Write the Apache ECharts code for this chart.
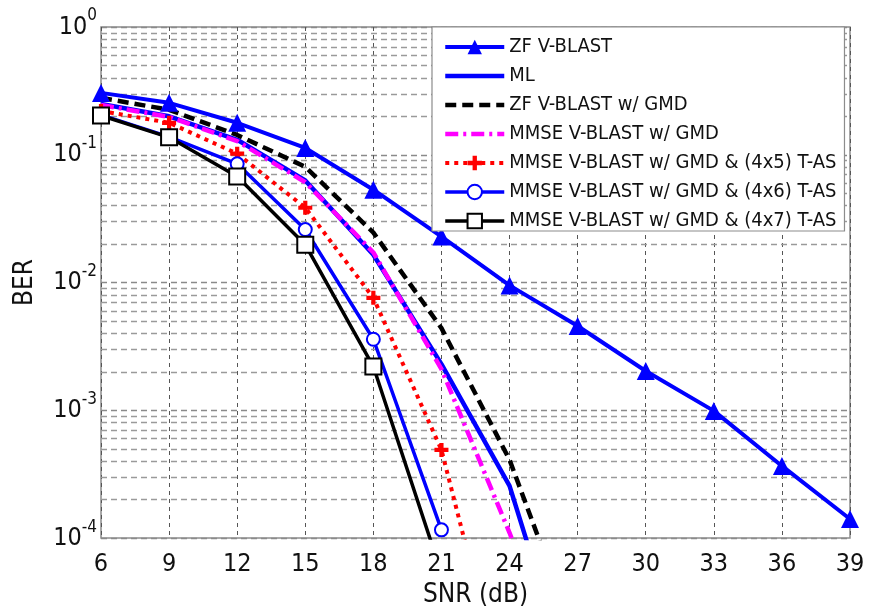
<!DOCTYPE html>
<html>
<head>
<meta charset="UTF-8">
<title>BER vs SNR</title>
<script src="https://cdn.jsdelivr.net/npm/echarts@6/dist/echarts.min.js"></script>
<style>
    html, body { margin: 0; padding: 0; background: #fff; }
    #main { width: 869px; height: 613px; }
</style>
</head>
<body>
<div id="main"></div>
<script>
    // SNR points (dB)
    var snr = [6, 9, 12, 15, 18, 21, 24, 27, 30, 33, 36, 39];

    // BER values (points below 1e-4 continue the curve under the axis)
    var zfVblast   = [0.305, 0.255, 0.178, 0.113, 0.0533, 0.0229, 0.0095, 0.00457, 0.00203, 0.00099, 0.000367, 0.000141];
    var ml         = [0.25, 0.20, 0.131, 0.063, 0.0165, 0.0023, 0.000256, 0.000005];
    var zfGmd      = [0.279, 0.225, 0.143, 0.0805, 0.0246, 0.0044, 0.00041, 0.000015];
    var mmseGmd    = [0.245, 0.198, 0.128, 0.061, 0.0172, 0.0021, 0.00011, 0.0000044];
    var tas4x5     = [0.22, 0.178, 0.102, 0.0385, 0.0076, 0.00049, 0.000004];
    var tas4x6     = [0.205, 0.138, 0.085, 0.026, 0.0036, 0.000116];
    var tas4x7     = [0.203, 0.137, 0.0677, 0.0198, 0.0022, 0.000053];

    // log grid: decades and the minor lines in between
    var decades = [-4, -3, -2, -1];
    var minorSteps = [2, 3, 4, 5, 6, 7, 8, 9];

    var names = [
        'ZF V-BLAST',
        'ML',
        'ZF V-BLAST w/ GMD',
        'MMSE V-BLAST w/ GMD',
        'MMSE V-BLAST w/ GMD & (4x5) T-AS',
        'MMSE V-BLAST w/ GMD & (4x6) T-AS',
        'MMSE V-BLAST w/ GMD & (4x7) T-AS'
    ];

    var font = "'DejaVu Sans Condensed', 'DejaVu Sans', sans-serif";

    function pairs(vals) {
        return vals.map(function (v, i) { return [snr[i], v]; });
    }

    var minorLines = [];
    decades.forEach(function (d) {
        minorSteps.forEach(function (m) {
            minorLines.push({ yAxis: m * Math.pow(10, d) });
        });
    });

    var plusIcon = 'path://M3.5,0h3v3.5h3.5v3h-3.5v3.5h-3v-3.5h-3.5v-3h3.5z';

    // legend rows: lines without markers get no marker in the legend either
    var legendData = names.map(function (n, i) {
        if (i >= 1 && i <= 3) {
            return { name: n, itemStyle: { opacity: 0 } };
        }
        return { name: n };
    });

    var chart = echarts.init(document.getElementById('main'));
    var option = {
        animation: false,
        backgroundColor: '#fff',
        grid: {
            left: 101, right: 19, top: 27, bottom: 74,
            show: true, borderColor: '#8c8c8c', borderWidth: 1.5, backgroundColor: 'transparent'
        },
        legend: {
            orient: 'vertical',
            left: 432, top: 27,
            padding: [10, 8, 0, 11],
            itemWidth: 59, itemHeight: 18, itemGap: 9,
            backgroundColor: '#fff',
            borderColor: '#8c8c8c', borderWidth: 1.2, borderRadius: 0,
            lineStyle: { width: 'inherit' },
            textStyle: { fontFamily: font, fontSize: 20, color: '#111' },
            data: legendData
        },
        xAxis: {
            type: 'value', min: 6, max: 39, interval: 3,
            name: 'SNR (dB)', nameLocation: 'middle', nameGap: 42,
            nameTextStyle: { fontFamily: font, fontSize: 26, color: '#111' },
            axisLine: { show: false },
            axisTick: { show: false },
            axisLabel: { fontFamily: font, fontSize: 25, color: '#111', margin: 14 },
            splitLine: { show: true, lineStyle: { color: '#555', type: [4, 4], width: 1 } }
        },
        yAxis: {
            type: 'log', logBase: 10, min: 1e-4, max: 1,
            name: 'BER', nameLocation: 'middle', nameGap: 63,
            nameTextStyle: { fontFamily: font, fontSize: 26, color: '#111' },
            axisLine: { show: false },
            axisTick: { show: false },
            axisLabel: {
                margin: 4,
                formatter: function (v) {
                    return '{b|10}{e|' + Math.round(Math.log10(v)) + '}';
                },
                rich: {
                    b: { fontFamily: font, fontSize: 25, color: '#111' },
                    e: { fontFamily: font, fontSize: 17, color: '#111', padding: [0, 0, 22, 0] }
                }
            },
            splitLine: { show: true, lineStyle: { color: '#8a8a8a', type: [6, 4], width: 1.3 } }
        },
        series: [
            {
                name: names[0], type: 'line', data: pairs(zfVblast),
                symbol: 'triangle', symbolSize: 18, showAllSymbol: true,
                lineStyle: { color: '#0000ff', width: 4 },
                itemStyle: { color: '#0000ff' },
                markLine: {
                    silent: true, symbol: 'none', precision: 10,
                    label: { show: false },
                    lineStyle: { color: '#9a9a9a', type: [6, 4], width: 1.3 },
                    emphasis: { disabled: true },
                    data: minorLines, z: 1
                }
            },
            {
                name: names[1], type: 'line', data: pairs(ml), symbol: 'none',
                lineStyle: { color: '#0000ff', width: 4.5 },
                itemStyle: { color: '#0000ff' }
            },
            {
                name: names[2], type: 'line', data: pairs(zfGmd), symbol: 'none',
                lineStyle: { color: '#000', width: 4.5, type: [11, 6] },
                itemStyle: { color: '#000' }
            },
            {
                name: names[3], type: 'line', data: pairs(mmseGmd), symbol: 'none',
                lineStyle: { color: '#ff00ff', width: 4.5, type: [13, 5, 3, 5] },
                itemStyle: { color: '#ff00ff' }
            },
            {
                name: names[4], type: 'line', data: pairs(tas4x5),
                symbol: plusIcon, symbolSize: 14,
                lineStyle: { color: '#ff0000', width: 4, type: [4, 5] },
                itemStyle: { color: '#ff0000' }
            },
            {
                name: names[5], type: 'line', data: pairs(tas4x6),
                symbol: 'emptyCircle', symbolSize: 13,
                lineStyle: { color: '#0000ff', width: 3.5 },
                itemStyle: { color: '#0000ff', borderWidth: 3 }
            },
            {
                name: names[6], type: 'line', data: pairs(tas4x7),
                symbol: 'emptyRect', symbolSize: 16,
                lineStyle: { color: '#000', width: 3.5 },
                itemStyle: { color: '#000', borderWidth: 3.5 }
            }
        ]
    };
    chart.setOption(option);
</script>
</body>
</html>
